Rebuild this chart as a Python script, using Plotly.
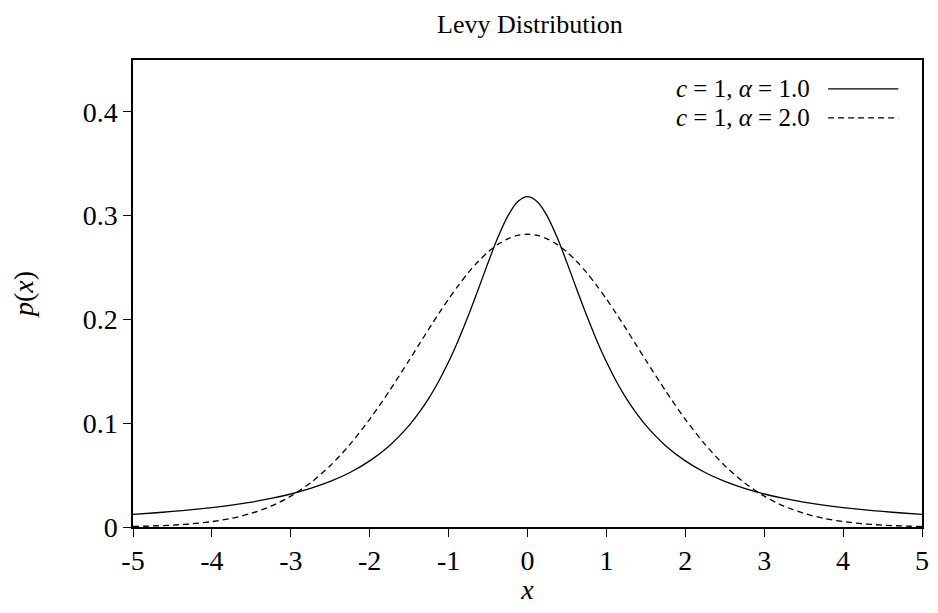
import plotly.graph_objects as go

x_vals = [-5.0, -4.75, -4.5, -4.25, -4.0, -3.75, -3.5, -3.25, -3.0, -2.75, -2.5, -2.25, -2.0, -1.75, -1.5, -1.375, -1.25, -1.125,
          -1.0, -0.875, -0.75, -0.625, -0.5, -0.375, -0.25, -0.125,
          0.0,
          0.125, 0.25, 0.375, 0.5, 0.625, 0.75, 0.875, 1.0,
          1.125, 1.25, 1.375, 1.5, 1.75, 2.0, 2.25, 2.5, 2.75, 3.0, 3.25, 3.5, 3.75, 4.0, 4.25, 4.5, 4.75, 5.0]

p_alpha1 = [0.0122, 0.0135, 0.0150, 0.0167, 0.0187, 0.0211, 0.0240, 0.0275, 0.0318, 0.0372, 0.0439, 0.0525, 0.0637, 0.0784, 0.0979, 0.1101, 0.1242, 0.1405,
            0.1592, 0.1803, 0.2037, 0.2289, 0.2546, 0.2791, 0.2996, 0.3134,
            0.3183,
            0.3134, 0.2996, 0.2791, 0.2546, 0.2289, 0.2037, 0.1803, 0.1592,
            0.1405, 0.1242, 0.1101, 0.0979, 0.0784, 0.0637, 0.0525, 0.0439, 0.0372, 0.0318, 0.0275, 0.0240, 0.0211, 0.0187, 0.0167, 0.0150, 0.0135, 0.0122]

p_alpha2 = [0.0005, 0.0010, 0.0018, 0.0031, 0.0052, 0.0084, 0.0132, 0.0201, 0.0297, 0.0426, 0.0591, 0.0796, 0.1038, 0.1312, 0.1607, 0.1758, 0.1909, 0.2056,
            0.2197, 0.2329, 0.2451, 0.2558, 0.2650, 0.2723, 0.2777, 0.2810,
            0.2821,
            0.2810, 0.2777, 0.2723, 0.2650, 0.2558, 0.2451, 0.2329, 0.2197,
            0.2056, 0.1909, 0.1758, 0.1607, 0.1312, 0.1038, 0.0796, 0.0591, 0.0426, 0.0297, 0.0201, 0.0132, 0.0084, 0.0052, 0.0031, 0.0018, 0.0010, 0.0005]

x_ticks = [-5, -4, -3, -2, -1, 0, 1, 2, 3, 4, 5]
x_tick_labels = ["-5", "-4", "-3", "-2", "-1", "0", "1", "2", "3", "4", "5"]
y_ticks = [0, 0.1, 0.2, 0.3, 0.4]
y_tick_labels = ["0", "0.1", "0.2", "0.3", "0.4"]

series_names = ["<i>c</i> = 1, <i>α</i> = 1.0", "<i>c</i> = 1, <i>α</i> = 2.0"]
series_dash = ["solid", "6px,4px"]

FONT = "Liberation Serif"
FS = 28

fig = go.Figure()
for ys, name, dash in zip([p_alpha1, p_alpha2], series_names, series_dash):
    fig.add_trace(go.Scatter(x=x_vals, y=ys, mode="lines", name=name,
                             line=dict(color="black", width=1.3, dash=dash, shape="spline", smoothing=0.8),
                             showlegend=False))

# legend drawn manually (text right-aligned, sample line on the right)
legend_rows_y = [0.938, 0.876]
for yy, name, dash in zip(legend_rows_y, series_names, series_dash):
    fig.add_annotation(xref="paper", yref="paper", x=0.861, y=yy, text=name, showarrow=False,
                       xanchor="right", yanchor="middle", font=dict(family=FONT, size=25, color="black"))
    fig.add_shape(type="line", xref="paper", yref="paper", x0=0.881, x1=0.970, y0=yy, y1=yy,
                  line=dict(color="black", width=1.3, dash=dash))

fig.update_layout(
    width=922, height=597,
    margin=dict(l=125, r=8, t=52, b=78, autoexpand=False),
    paper_bgcolor="white", plot_bgcolor="white",
    font=dict(family=FONT, size=FS, color="black"),
    title=dict(text="Levy Distribution", x=0.566, xanchor="center", y=0.988, yanchor="top",
               font=dict(family=FONT, size=26, color="black")),
)
fig.update_xaxes(range=[-5, 5], tickvals=x_ticks, ticktext=x_tick_labels,
                 showline=True, mirror=True, linecolor="black", linewidth=1.5,
                 ticks="outside", ticklen=8, tickcolor="black", tickwidth=1.2,
                 showgrid=False, zeroline=False, automargin=False,
                 title=dict(text="<i>x</i>", standoff=6, font=dict(family=FONT, size=FS)))
fig.update_yaxes(range=[0, 0.45], tickvals=y_ticks, ticktext=y_tick_labels,
                 showline=True, mirror=True, linecolor="black", linewidth=1.5,
                 ticks="outside", ticklen=8, tickcolor="black", tickwidth=1.2,
                 showgrid=False, zeroline=False, automargin=False,
                 title=dict(text="<i>p</i>(<i>x</i>)", standoff=42, font=dict(family=FONT, size=FS)))

fig.write_html("out.html")
